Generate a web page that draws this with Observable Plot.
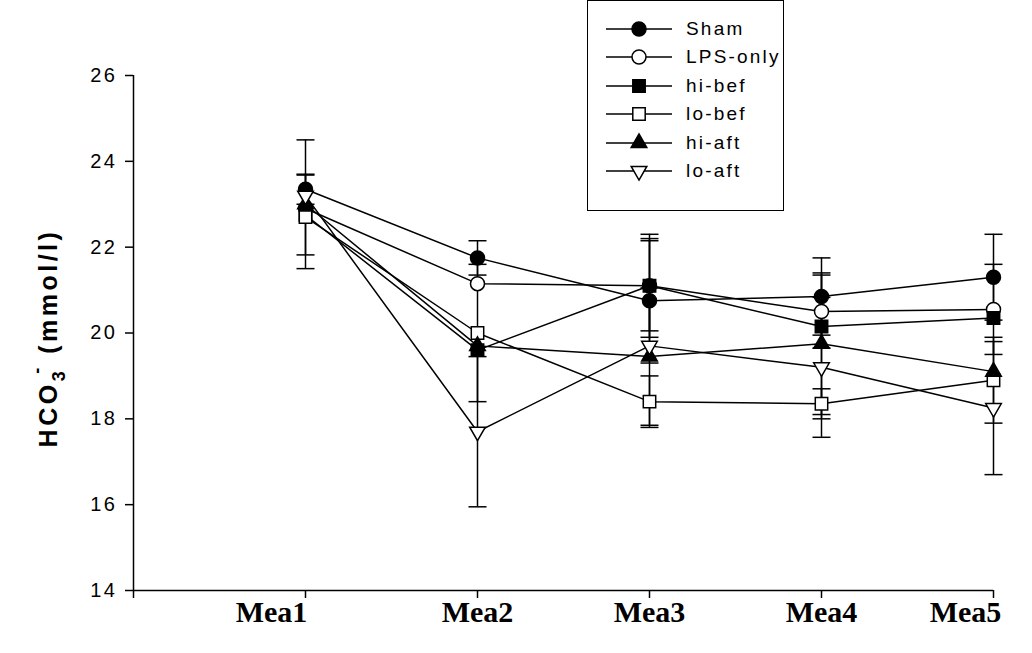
<!DOCTYPE html>
<html><head><meta charset="utf-8">
<script src="https://cdn.jsdelivr.net/npm/d3@7"></script>
<script src="https://cdn.jsdelivr.net/npm/@observablehq/plot@0.6"></script>
<style>
body{margin:0;background:#fff;}
#wrap{position:relative;width:1032px;height:653px;font-family:Arial,"Liberation Sans",sans-serif;}
#legend{position:absolute;left:587px;top:0px;width:197px;height:211px;border:1px solid #000;background:#fff;box-sizing:border-box;}
.lrow{position:absolute;left:0;height:28px;display:flex;align-items:center;}
.lrow span{font-size:19px;letter-spacing:2.2px;margin-left:12px;color:#000;}
</style></head><body><div id="wrap"></div>
<script>
const categories = ["Mea1","Mea2","Mea3","Mea4","Mea5"];
const seriesNames = ["Sham","LPS-only","hi-bef","lo-bef","hi-aft","lo-aft"];
const sham    = [23.35, 21.75, 20.75, 20.85, 21.30];
const lpsOnly = [22.90, 21.15, 21.10, 20.50, 20.55];
const hiBef   = [22.75, 19.60, 21.10, 20.15, 20.35];
const loBef   = [22.70, 20.00, 18.40, 18.35, 18.90];
const hiAft   = [23.00, 19.70, 19.45, 19.75, 19.10];
const loAft   = [23.20, 17.70, 19.70, 19.20, 18.25];
// error bar half-widths (null = not visible)
const shamErr    = [0.35, 0.40, 1.45, 0.90, 1.00];
const lpsOnlyErr = [null, null, 1.05, 0.85, 1.05];
const hiBefErr   = [0.93, null, 1.20, null, null];
const loBefErr   = [null, 1.60, 0.60, 0.35, 1.00];
const hiAftErr   = [1.50, null, 1.60, 1.65, null];
const loAftErr   = [null, 1.75, null, 1.63, 1.55];
const yTicks = [14, 16, 18, 20, 22, 24, 26];

const seriesValues = [sham, lpsOnly, hiBef, loBef, hiAft, loAft];
const seriesErrs = [shamErr, lpsOnlyErr, hiBefErr, loBefErr, hiAftErr, loAftErr];

const downTriangle = {
  draw(ctx, size) {
    const y = -Math.sqrt(size / (Math.sqrt(3) * 3));
    ctx.moveTo(0, -y * 2);
    ctx.lineTo(-Math.sqrt(3) * y, y);
    ctx.lineTo(Math.sqrt(3) * y, y);
    ctx.closePath();
  }
};
const capSymbol = { draw(ctx) { ctx.moveTo(-9, 0); ctx.lineTo(9, 0); } };
const symbolOf = ["circle", "circle", "square", "square", "triangle", downTriangle];
const fillOf = ["black", "white", "black", "white", "black", "white"];
const radiusOf = [7, 7, 7, 7, 5.8, 5.8];
// the category labels were placed by hand in the original (Mea1 and Mea5 sit left of their ticks)
const labelNudge = {Mea1: -34, Mea5: -28};

const rows = [];
seriesNames.forEach((name, s) => {
  seriesValues[s].forEach((v, i) => rows.push({series: name, s, x: i + 1, y: v, err: seriesErrs[s][i]}));
});
const errRows = rows.filter(d => d.err != null);
const xTickValues = [0, ...categories.map((c, i) => i + 1)];

const marks = [
  Plot.ruleX(errRows, {x: "x", y1: d => d.y - d.err, y2: d => d.y + d.err, stroke: "black", strokeWidth: 1.5}),
  Plot.dot(errRows, {x: "x", y: d => d.y + d.err, symbol: capSymbol, r: 5, stroke: "black", strokeWidth: 1.5, fill: "none"}),
  Plot.dot(errRows, {x: "x", y: d => d.y - d.err, symbol: capSymbol, r: 5, stroke: "black", strokeWidth: 1.5, fill: "none"}),
  Plot.line(rows, {x: "x", y: "y", z: "series", stroke: "black", strokeWidth: 1.5}),
  ...seriesNames.map((name, s) => Plot.dot(rows.filter(d => d.s === s), {
    x: "x", y: "y", symbol: symbolOf[s], fill: fillOf[s], stroke: "black", strokeWidth: 1.5, r: radiusOf[s]
  })),
  Plot.ruleX([0], {stroke: "black", strokeWidth: 1.5}),
  Plot.ruleY([14], {stroke: "black", strokeWidth: 1.5}),
  Plot.axisY(yTicks, {tickSize: 8, tickPadding: 8, fontSize: 20, fontFamily: "Arial, 'Liberation Sans', sans-serif", label: null, stroke: "black", strokeWidth: 1.5}),
  Plot.axisX(xTickValues, {tickSize: 8, tickPadding: 2, fontSize: 30, fontWeight: "bold", fontFamily: "'Times New Roman', 'Liberation Serif', serif",
    tickFormat: v => v === 0 ? "" : categories[v - 1], label: null, stroke: "black", strokeWidth: 1.5})
];

const chart = Plot.plot({
  width: 1032, height: 653,
  marginLeft: 133, marginRight: 39, marginTop: 75, marginBottom: 63,
  x: {domain: [0, 5], axis: null},
  y: {domain: [14, 26], axis: null},
  style: {background: "transparent", color: "black", overflow: "visible"},
  marks
});
const wrap = document.getElementById("wrap");
wrap.appendChild(chart);

const svg = d3.select(chart);
svg.selectAll("[aria-label='y-axis tick label']")
  .attr("font-size", 20).style("font-size", "20px").style("letter-spacing", "2.5px")
  .attr("font-family", "Arial, 'Liberation Sans', sans-serif");
svg.selectAll("[aria-label='x-axis tick label']")
  .attr("font-size", 30).style("font-size", "30px").attr("font-weight", "bold")
  .attr("font-family", "'Times New Roman', 'Liberation Serif', serif");
svg.selectAll("[aria-label='x-axis tick label'] text").each(function() {
  const nudge = labelNudge[this.textContent];
  if (nudge) d3.select(this).attr("dx", nudge);
});
const t = svg.append("text")
  .attr("transform", "translate(57,338) rotate(-90)")
  .attr("text-anchor", "middle")
  .attr("font-family", "Arial, 'Liberation Sans', sans-serif")
  .attr("font-weight", "bold")
  .attr("font-size", 25)
  .style("letter-spacing", "3.5px")
  .attr("fill", "black");
t.append("tspan").text("HCO");
t.append("tspan").attr("font-size", 18).attr("dy", 8).text("3");
t.append("tspan").attr("font-size", 18).attr("dx", -6).attr("dy", -22).text("-");
t.append("tspan").attr("dy", 14).text(" (mmol/l)");

// legend
const legend = document.createElement("div");
legend.id = "legend";
wrap.appendChild(legend);
seriesNames.forEach((name, s) => {
  const row = document.createElement("div");
  row.className = "lrow";
  row.style.top = (14 + s * 28.4) + "px";
  row.style.left = "16px";
  const ls = d3.create("svg").attr("width", 70).attr("height", 28);
  ls.append("line").attr("x1", 2).attr("x2", 68).attr("y1", 14).attr("y2", 14).attr("stroke", "black").attr("stroke-width", 1.5);
  const sym = typeof symbolOf[s] === "string"
    ? {circle: d3.symbolCircle, square: d3.symbolSquare, triangle: d3.symbolTriangle}[symbolOf[s]]
    : symbolOf[s];
  ls.append("path").attr("d", d3.symbol(sym, Math.PI * radiusOf[s] * radiusOf[s])()).attr("transform", "translate(35,14)")
    .attr("fill", fillOf[s]).attr("stroke", "black").attr("stroke-width", 1.5);
  row.appendChild(ls.node());
  const sp = document.createElement("span");
  sp.textContent = name;
  row.appendChild(sp);
  legend.appendChild(row);
});
</script></body></html>
